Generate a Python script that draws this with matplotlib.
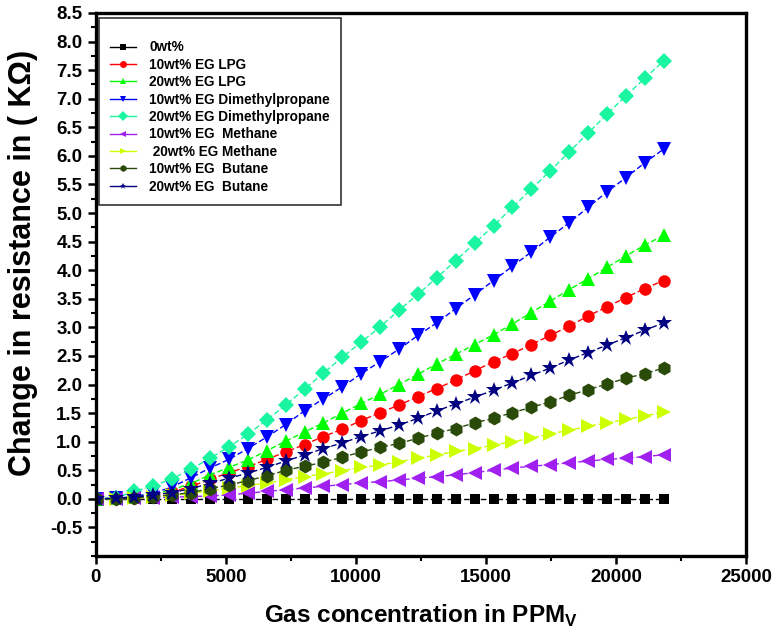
import matplotlib
matplotlib.use('Agg')
import matplotlib.pyplot as plt
from matplotlib.lines import Line2D
from matplotlib.ticker import MultipleLocator

# Gas concentration (ppm_v), 31 points
ppm = [40, 766, 1492, 2218, 2944, 3670, 4396, 5122, 5848, 6574, 7300,
       8026, 8752, 9478, 10204, 10930, 11656, 12382, 13108, 13834, 14560,
       15286, 16012, 16738, 17464, 18190, 18916, 19642, 20368, 21094, 21820]

# Change in resistance (kOhm)
wt0 = [0.0] * 31
lpg10 = [0.00, 0.01, 0.02, 0.06, 0.12, 0.22, 0.34, 0.46, 0.56, 0.69, 0.82,
         0.95, 1.09, 1.22, 1.37, 1.51, 1.64, 1.79, 1.93, 2.08, 2.24,
         2.40, 2.54, 2.70, 2.86, 3.02, 3.20, 3.36, 3.52, 3.68, 3.82]
lpg20 = [0.00, 0.01, 0.03, 0.08, 0.16, 0.27, 0.42, 0.55, 0.68, 0.84, 1.01,
         1.17, 1.33, 1.50, 1.67, 1.83, 2.00, 2.18, 2.36, 2.53, 2.70,
         2.87, 3.06, 3.26, 3.46, 3.66, 3.85, 4.05, 4.25, 4.44, 4.61]
dmp10 = [0.00, 0.01, 0.04, 0.10, 0.21, 0.37, 0.54, 0.69, 0.88, 1.08, 1.30,
         1.54, 1.75, 1.96, 2.19, 2.40, 2.62, 2.86, 3.08, 3.33, 3.57,
         3.82, 4.07, 4.32, 4.58, 4.83, 5.10, 5.37, 5.62, 5.88, 6.12]
dmp20 = [0.00, 0.02, 0.13, 0.23, 0.35, 0.52, 0.71, 0.91, 1.13, 1.38, 1.64,
         1.92, 2.20, 2.48, 2.74, 3.01, 3.30, 3.58, 3.87, 4.17, 4.47,
         4.78, 5.10, 5.42, 5.74, 6.07, 6.40, 6.73, 7.05, 7.36, 7.66]
meth10 = [0.00, 0.00, 0.01, 0.02, 0.03, 0.04, 0.05, 0.07, 0.10, 0.13, 0.16,
          0.19, 0.22, 0.25, 0.28, 0.30, 0.33, 0.36, 0.39, 0.42, 0.46,
          0.50, 0.54, 0.57, 0.60, 0.63, 0.66, 0.69, 0.71, 0.74, 0.77]
meth20 = [0.00, 0.00, 0.01, 0.03, 0.06, 0.10, 0.14, 0.19, 0.23, 0.28, 0.33,
          0.39, 0.44, 0.49, 0.55, 0.59, 0.65, 0.71, 0.77, 0.83, 0.88,
          0.94, 1.00, 1.06, 1.14, 1.20, 1.27, 1.33, 1.39, 1.45, 1.52]
but10 = [0.00, 0.00, 0.02, 0.04, 0.07, 0.11, 0.18, 0.24, 0.32, 0.40, 0.50,
         0.57, 0.64, 0.73, 0.82, 0.90, 0.97, 1.06, 1.15, 1.23, 1.33,
         1.41, 1.51, 1.60, 1.70, 1.81, 1.91, 2.01, 2.11, 2.19, 2.29]
but20 = [0.00, 0.01, 0.03, 0.07, 0.11, 0.18, 0.27, 0.36, 0.45, 0.55, 0.66,
         0.77, 0.88, 0.98, 1.09, 1.19, 1.29, 1.41, 1.54, 1.66, 1.78,
         1.90, 2.03, 2.16, 2.29, 2.43, 2.56, 2.69, 2.82, 2.95, 3.08]

labels = ['0wt%', '10wt% EG LPG', '20wt% EG LPG', '10wt% EG Dimethylpropane',
          '20wt% EG Dimethylpropane', '10wt% EG  Methane', ' 20wt% EG Methane',
          '10wt% EG  Butane', '20wt% EG  Butane']
series = [wt0, lpg10, lpg20, dmp10, dmp20, meth10, meth20, but10, but20]

# style per series: (color, marker, size)
styles = [('black', 's', 7.5), ('#FF0000', 'o', 9), ('#00FF00', '^', 10),
          ('#0000FF', 'v', 10), ('#19F5A0', 'D', 8), ('#A020F0', '<', 10),
          ('#CCFF00', '>', 10), ('#2A4A0A', 'h', 10), ('#000080', '*', 12)]

plt.rcParams['font.family'] = ['Liberation Sans', 'DejaVu Sans']

fig = plt.figure(figsize=(7.82, 6.34), dpi=100)
ax = fig.add_axes([0.1222, 0.123, 0.8324, 0.8565])

handles = []
for y, (c, m, ms), lab in zip(series, styles, labels):
    ax.plot(ppm, y, color=c, marker=m, markersize=ms, markeredgewidth=0,
            linestyle=(0, (4, 2)), linewidth=1)
    handles.append(Line2D([], [], color=c, marker=m, markersize=5,
                          markeredgewidth=0, linewidth=1, label=lab))

ax.set_xlim(0, 25000)
ax.set_ylim(-1.0, 8.5)
ax.xaxis.set_major_locator(MultipleLocator(5000))
ax.xaxis.set_minor_locator(MultipleLocator(2500))
ax.set_yticks([v / 2 for v in range(-1, 18)])
ax.yaxis.set_minor_locator(MultipleLocator(0.25))
ax.set_yticklabels(['%.1f' % (v / 2) for v in range(-1, 18)])

ax.tick_params(which='major', direction='out', length=6, width=1.8,
               top=False, right=False, labelsize=13.5)
ax.tick_params(which='minor', direction='out', length=3.5, width=1.5,
               top=False, right=False)
for lab in ax.get_xticklabels() + ax.get_yticklabels():
    lab.set_fontweight('bold')
for sp in ax.spines.values():
    sp.set_linewidth(2.4)

ax.set_xlabel('Gas concentration in PPM$_\\mathregular{V}$',
              fontweight='bold', fontsize=17.5, labelpad=12)
ax.set_ylabel('Change in resistance in ( K\u03a9)', fontweight='bold',
              fontsize=22)
ax.yaxis.set_label_coords(-0.088, 0.54)

leg = ax.legend(handles=handles, loc='upper left',
                bbox_to_anchor=(0.005, 0.99), borderaxespad=0,
                prop={'weight': 'bold', 'size': 9.8}, title=' ',
                title_fontsize=6, fancybox=False, labelspacing=0.25,
                handlelength=1.85, handletextpad=1.0, borderpad=0.85)
leg.get_frame().set_edgecolor('black')
leg.get_frame().set_linewidth(1.2)

fig.savefig('out.png', dpi=100)
